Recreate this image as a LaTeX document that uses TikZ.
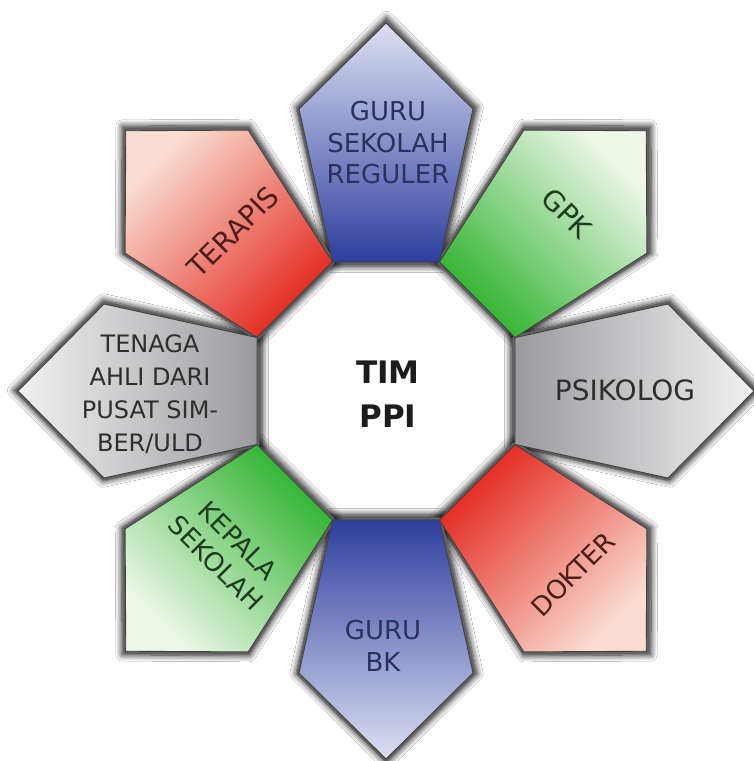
\documentclass[tikz,border=0pt]{standalone}
\usepackage{fontspec}
\setmainfont{DejaVu Sans}
\usetikzlibrary{shadows.blur}

\definecolor{blueBase}{HTML}{2E3E9E}
\definecolor{blueTip}{HTML}{DDE0F2}
\definecolor{greenBase}{HTML}{2DB32D}
\definecolor{greenTip}{HTML}{EEF7EA}
\definecolor{redBase}{HTML}{E3261C}
\definecolor{redTip}{HTML}{FADDD2}
\definecolor{grayBase}{HTML}{9A9B9F}
\definecolor{grayTip}{HTML}{F2F2F2}
\definecolor{blueText}{HTML}{2C305E}
\definecolor{greenText}{HTML}{1F3B1F}
\definecolor{redText}{HTML}{4A1F1A}
\definecolor{grayText}{HTML}{2E2E2E}
\definecolor{hubText}{HTML}{1C1C1C}

% one petal: base on an octagon side, pointed tip outward along angle #1
\newcommand\petalpath[1]{(#1+22.5:139.6) -- (#1+17.15:295.1) -- (#1:368) -- (#1-17.15:295.1) -- (#1-22.5:139.6) -- cycle}

\tikzset{
  petalshadow/.style={blur shadow={shadow xshift=0.5pt, shadow yshift=0.5pt,
      shadow blur radius=6pt, shadow scale=1.04, shadow opacity=90,
      shadow blur steps=10}},
  petalrim/.style={draw=black!62, line width=5pt, line join=round},
  petal/.style={draw=black!75, line width=0.9pt, line join=miter},
  lbl/.style={font=\fontsize{26}{31.5}\selectfont, align=center, inner sep=0pt},
  biglbl/.style={lbl, font=\fontsize{28}{32}\selectfont},
}

\begin{document}
\begin{tikzpicture}[x=1pt,y=1pt]
\useasboundingbox (0,0) rectangle (754,-761);
\fill[white] (0,0) rectangle (754,-761);

\begin{scope}[shift={(386,-391)}]
  % central octagon
  \fill[white] (22.5:139.6) -- (67.5:139.6) -- (112.5:139.6) -- (157.5:139.6)
     -- (202.5:139.6) -- (247.5:139.6) -- (292.5:139.6) -- (337.5:139.6) -- cycle;
  % soft shadows and dark rims of all petals first
  \foreach \a in {90,45,0,-45,-90,-135,180,135}
    \path[petalshadow, petalrim] \petalpath{\a};
  % shaded petals, light at the tip, saturated at the base
  \foreach \a/\cb/\ct [evaluate=\a as \sa using \a-90] in
      {90/blueBase/blueTip, 45/greenBase/greenTip, 0/grayBase/grayTip,
       -45/redBase/redTip, -90/blueBase/blueTip, -135/greenBase/greenTip,
       180/grayBase/grayTip, 135/redBase/redTip}
    \path[petal, top color=\ct, bottom color=\cb, shading angle=\sa] \petalpath{\a};
\end{scope}

\node[lbl, text=blueText] (gsr) at (388,-143) {GURU\\SEKOLAH\\REGULER};
\node[biglbl, text=greenText, rotate=-45] (gpk) at (567,-213) {GPK};
\node[biglbl, text=grayText] (psi) at (625,-390) {PSIKOLOG};
\node[lbl, text=redText, rotate=45] (dok) at (573,-574) {DOKTER};
\node[lbl, text=blueText] (gbk) at (383,-646) {GURU\\BK};
\node[lbl, text=greenText, rotate=-45] (kep) at (227,-552) {KEPALA\\SEKOLAH};
\node[lbl, text=grayText, font=\fontsize{24}{33}\selectfont] (ten) at (150,-394)
  {TENAGA\\AHLI DARI\\PUSAT SIM-\\BER/ULD};
\node[biglbl, text=redText, rotate=45] (ter) at (233,-232) {TERAPIS};
\node[lbl, text=hubText, font=\bfseries\fontsize{31}{44}\selectfont] (tim) at (388,-394) {TIM\\PPI};
\end{tikzpicture}
\end{document}
